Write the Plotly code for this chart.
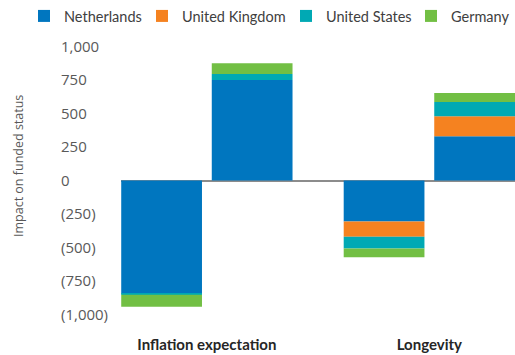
import plotly.graph_objects as go

categories = ["Inflation expectation", "Longevity"]
countries = ["Netherlands", "United Kingdom", "United States", "Germany"]
colors = ["#0076BF", "#F58220", "#00A9B4", "#72BF44"]

# Decrease in funded status (left bar of each pair)
nl_down = [-845, -305]
uk_down = [0, -115]
us_down = [-7, -88]
de_down = [-90, -65]

# Increase in funded status (right bar of each pair)
nl_up = [750, 330]
uk_up = [0, 150]
us_up = [45, 105]
de_up = [80, 67]

y_ticks = [1000, 750, 500, 250, 0, -250, -500, -750, -1000]
y_ticktext = ["1,000", "750", "500", "250", "0", "(250)", "(500)", "(750)", "(1,000)"]

down_series = [nl_down, uk_down, us_down, de_down]
up_series = [nl_up, uk_up, us_up, de_up]
legend_widths = [73, 99, 80, 60]

BAR_W = 0.363
GAP = 0.022

fig = go.Figure()
for name, color, down, up, lw in zip(countries, colors, down_series, up_series, legend_widths):
    fig.add_trace(go.Bar(
        x=categories, y=down, name=name, marker=dict(color=color, line=dict(width=0)),
        width=BAR_W, offset=-GAP - BAR_W, legendgroup=name, showlegend=True,
        legendwidth=lw,
    ))
    fig.add_trace(go.Bar(
        x=categories, y=up, name=name, marker=dict(color=color, line=dict(width=0)),
        width=BAR_W, offset=GAP, legendgroup=name, showlegend=False,
    ))

W, H = 515, 355
T, B = 33, 27          # margins; y range padded so the end tick labels stay visible
Y_RANGE = [-1100, 1100]

fig.update_layout(
    width=W, height=H,
    barmode="relative",
    plot_bgcolor="white", paper_bgcolor="white",
    margin=dict(l=0, r=0, t=T, b=B, autoexpand=False),
    font=dict(family="Lato", color="#404040"),
    legend=dict(
        orientation="h", x=24 / W, xanchor="left", y=1.0, yref="container", yanchor="top",
        font=dict(family="Lato", size=14.5, color="#404040"),
        traceorder="normal", itemwidth=30,
    ),
    xaxis=dict(
        domain=[121 / W, 1], range=[-0.386, 1.385], automargin=False,
        showgrid=False, showline=False, zeroline=False,
        ticks="outside", ticklen=3, tickcolor="rgba(0,0,0,0)",
        tickfont=dict(family="Lato", size=15, color="#262626", weight="bold"),
    ),
    yaxis=dict(
        anchor="free", position=57 / W, automargin=False,
        range=Y_RANGE, tickvals=y_ticks, ticktext=y_ticktext,
        ticklabelposition="inside", ticks="",
        tickfont=dict(family="Open Sans", size=15, color="#595959"),
        showgrid=False, showline=False,
        zeroline=True, zerolinecolor="#8C8C8C", zerolinewidth=1.5,
    ),
    annotations=[dict(
        text="Impact on funded status", textangle=-90,
        xref="paper", yref="paper", x=18 / W, y=(H - B - 166) / (H - T - B),
        xanchor="center", yanchor="middle", showarrow=False,
        font=dict(family="Open Sans", size=12.5, color="#595959"),
    )],
)

fig.write_html("out.html")
